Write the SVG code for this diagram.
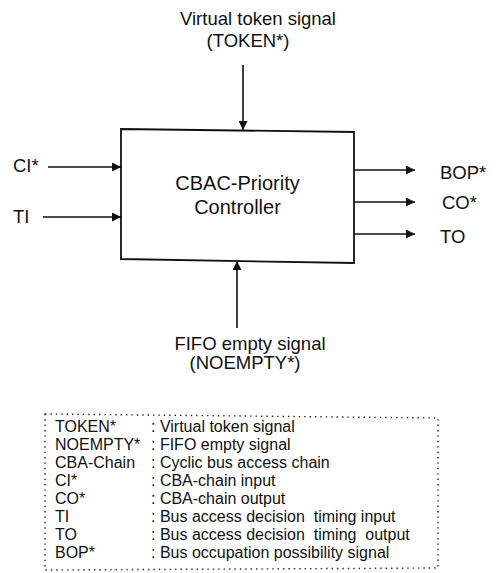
<svg xmlns="http://www.w3.org/2000/svg" width="499" height="573" viewBox="0 0 499 573">
<defs>
<style>
text{font-family:"Liberation Sans",Arial,sans-serif;fill:#111}
.lbl{font-size:18.5px}
.ctr{font-size:20px;text-anchor:middle}
.top{font-size:18.5px;text-anchor:middle}
.leg{font-size:16px;white-space:pre}
.wire{stroke:#111;stroke-width:1.6;fill:none}
.box{stroke:#111;stroke-width:1.8;fill:#fff}
.dot{stroke:#222;stroke-width:1.4;fill:none;stroke-dasharray:1.4 4}
</style>
<marker id="ah" viewBox="0 0 10 10" refX="10" refY="5" markerWidth="9" markerHeight="9" markerUnits="userSpaceOnUse" orient="auto">
<path d="M0,0 L10,5 L0,10 Z" fill="#111"/>
</marker>
</defs>
<rect width="499" height="573" fill="#fff"/>

<g id="controller">
<path class="box" d="M121,129 L354,132 L354,263 L121,259 Z"/>
<text class="ctr" x="237.5" y="190">CBAC-Priority</text>
<text class="ctr" x="237.5" y="214">Controller</text>
</g>

<g id="token">
<text class="top" x="258" y="25">Virtual token signal</text>
<text class="top" x="248" y="47">(TOKEN*)</text>
</g>

<g id="noempty">
<text class="top" x="250" y="350">FIFO empty signal</text>
<text class="top" x="245" y="369">(NOEMPTY*)</text>
</g>

<g id="ci"><text class="lbl" x="13" y="172">CI*</text></g>
<g id="ti"><text class="lbl" x="13" y="223">TI</text></g>
<g id="bop"><text class="lbl" x="440" y="179">BOP*</text></g>
<g id="co"><text class="lbl" x="442" y="209">CO*</text></g>
<g id="to"><text class="lbl" x="440" y="243">TO</text></g>

<g id="connectors">
<line class="wire" x1="243" y1="65" x2="243" y2="130" marker-end="url(#ah)"/>
<line class="wire" x1="237" y1="328" x2="237" y2="261" marker-end="url(#ah)"/>
<line class="wire" x1="48" y1="167" x2="121" y2="167" marker-end="url(#ah)"/>
<line class="wire" x1="43" y1="217" x2="121" y2="217" marker-end="url(#ah)"/>
<line class="wire" x1="354" y1="170" x2="415" y2="170" marker-end="url(#ah)"/>
<line class="wire" x1="354" y1="202" x2="415" y2="202" marker-end="url(#ah)"/>
<line class="wire" x1="354" y1="234" x2="415" y2="234" marker-end="url(#ah)"/>
</g>

<g id="legend">
<path class="dot" d="M45,414 L438,418 L438,568 L45,570 Z"/>
<text class="leg" x="55" y="432">TOKEN*</text>
<text class="leg" x="55" y="450">NOEMPTY*</text>
<text class="leg" x="55" y="468">CBA-Chain</text>
<text class="leg" x="55" y="486">CI*</text>
<text class="leg" x="55" y="504">CO*</text>
<text class="leg" x="55" y="522">TI</text>
<text class="leg" x="55" y="540">TO</text>
<text class="leg" x="55" y="558">BOP*</text>
<text class="leg" x="151" y="432">: Virtual token signal</text>
<text class="leg" x="151" y="450">: FIFO empty signal</text>
<text class="leg" x="151" y="468">: Cyclic bus access chain</text>
<text class="leg" x="151" y="486">: CBA-chain input</text>
<text class="leg" x="151" y="504">: CBA-chain output</text>
<text class="leg" x="151" y="522">: Bus access decision  timing input</text>
<text class="leg" x="151" y="540">: Bus access decision  timing  output</text>
<text class="leg" x="151" y="558">: Bus occupation possibility signal</text>
</g>
</svg>
